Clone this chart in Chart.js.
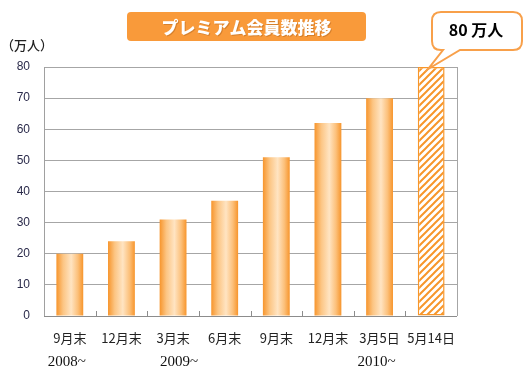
<!DOCTYPE html>
<html>
<head>
<meta charset="utf-8">
<script src="https://cdn.jsdelivr.net/npm/chart.js@4"></script>
<style>
html,body{margin:0;padding:0;background:#fff;}
#wrap{position:relative;width:530px;height:380px;}
</style>
</head>
<body>
<div id="wrap"><canvas id="c" width="530" height="380"></canvas></div>
<script>
const categories = ["9月末", "12月末", "3月末", "6月末", "9月末", "12月末", "3月5日", "5月14日"];
const members = [20, 24, 31, 37, 51, 62, 70, 80];
const yearLabels = ["2008~", "2009~", "2010~"];
const yearIndex = [0, 2, 6];
const yTicks = [0, 10, 20, 30, 40, 50, 60, 70, 80];
const titleText = "プレミアム会員数推移";
const unitText = "（万人）";
const calloutText = "80 万人";
const hatchedIndex = 7;

const ORANGE = "#f7962a";
const BAR_PCT = 0.52;

function makeHatch() {
  const p = document.createElement("canvas");
  p.width = 7; p.height = 7;
  const g = p.getContext("2d");
  g.fillStyle = "#fff";
  g.fillRect(0, 0, 7, 7);
  g.strokeStyle = ORANGE;
  g.lineWidth = 2;
  g.beginPath();
  g.moveTo(-1, 8); g.lineTo(8, -1);
  g.moveTo(-4.5, 4.5); g.lineTo(4.5, -4.5);
  g.moveTo(2.5, 11.5); g.lineTo(11.5, 2.5);
  g.stroke();
  return g.createPattern(p, "repeat");
}
let hatch = null;

function barFill(c) {
  const chart = c.chart;
  const area = chart.chartArea;
  if (!area) return ORANGE;
  if (c.dataIndex === hatchedIndex) {
    if (!hatch) hatch = makeHatch();
    return hatch;
  }
  const x = chart.scales.x.getPixelForValue(c.dataIndex);
  const w = area.width / categories.length * BAR_PCT;
  const g = chart.ctx.createLinearGradient(x - w / 2, 0, x + w / 2, 0);
  g.addColorStop(0, "#f7952c");
  g.addColorStop(0.25, "#fcc583");
  g.addColorStop(0.55, "#ffe4c2");
  g.addColorStop(0.8, "#fcc07a");
  g.addColorStop(1, "#f7952c");
  return g;
}

function roundRect(ctx, x, y, w, h, r) {
  ctx.beginPath();
  ctx.moveTo(x + r, y);
  ctx.lineTo(x + w - r, y);
  ctx.quadraticCurveTo(x + w, y, x + w, y + r);
  ctx.lineTo(x + w, y + h - r);
  ctx.quadraticCurveTo(x + w, y + h, x + w - r, y + h);
  ctx.lineTo(x + r, y + h);
  ctx.quadraticCurveTo(x, y + h, x, y + h - r);
  ctx.lineTo(x, y + r);
  ctx.quadraticCurveTo(x, y, x + r, y);
  ctx.closePath();
}

const decor = {
  id: "decor",
  beforeDatasetsDraw(chart) {
    const ctx = chart.ctx, a = chart.chartArea;
    ctx.save();
    ctx.strokeStyle = "#a6a6a6";
    ctx.lineWidth = 1;
    ctx.beginPath();
    ctx.moveTo(Math.round(a.right) + 0.5, a.top);
    ctx.lineTo(Math.round(a.right) + 0.5, a.bottom);
    ctx.stroke();
    ctx.restore();
  },
  afterDraw(chart) {
    const ctx = chart.ctx, a = chart.chartArea, xs = chart.scales.x, ys = chart.scales.y;
    ctx.save();
    ctx.strokeStyle = "#8c8c8c";
    ctx.lineWidth = 1;
    ctx.beginPath();
    ctx.moveTo(a.left, Math.round(a.bottom) + 0.5);
    ctx.lineTo(a.right, Math.round(a.bottom) + 0.5);
    const cw = a.width / categories.length;
    for (let i = 1; i < categories.length; i++) {
      const x = Math.round(a.left + cw * i) + 0.5;
      ctx.moveTo(x, a.bottom);
      ctx.lineTo(x, a.bottom - 5);
    }
    ctx.stroke();

    // title box
    roundRect(ctx, 127, 12, 239, 29, 4);
    ctx.fillStyle = "#f99a3a";
    ctx.fill();
    ctx.font = "900 17px 'Noto Sans CJK JP'";
    ctx.textAlign = "center";
    ctx.textBaseline = "middle";
    ctx.fillStyle = "rgba(150,80,20,0.35)";
    ctx.fillText(titleText, 247.5, 28.5);
    ctx.fillStyle = "#ffffff";
    ctx.fillText(titleText, 246.5, 27.5);

    // unit label
    ctx.font = "500 13px 'Noto Sans CJK JP'";
    ctx.fillStyle = "#222";
    ctx.textAlign = "left";
    ctx.fillText(unitText, 1, 45);

    // year labels
    ctx.font = "15px 'Liberation Serif'";
    ctx.fillStyle = "#111";
    ctx.textAlign = "center";
    const yOff = [-3, 6, -3];
    yearLabels.forEach((t, k) => {
      ctx.fillText(t, xs.getPixelForValue(yearIndex[k]) + yOff[k], 362);
    });

    // callout
    const tipX = xs.getPixelForValue(hatchedIndex) - 3;
    const tipY = ys.getPixelForValue(members[hatchedIndex]) + 2;
    const bx = 432, by = 12, bw = 90, bh = 38, r = 9;
    ctx.beginPath();
    ctx.moveTo(bx + r, by);
    ctx.lineTo(bx + bw - r, by);
    ctx.quadraticCurveTo(bx + bw, by, bx + bw, by + r);
    ctx.lineTo(bx + bw, by + bh - r);
    ctx.quadraticCurveTo(bx + bw, by + bh, bx + bw - r, by + bh);
    ctx.lineTo(460, by + bh);
    ctx.lineTo(tipX, tipY);
    ctx.lineTo(443, by + bh);
    ctx.lineTo(bx + r, by + bh);
    ctx.quadraticCurveTo(bx, by + bh, bx, by + bh - r);
    ctx.lineTo(bx, by + r);
    ctx.quadraticCurveTo(bx, by, bx + r, by);
    ctx.closePath();
    ctx.fillStyle = "#ffffff";
    ctx.fill();
    ctx.strokeStyle = "#f8a04a";
    ctx.lineWidth = 2;
    ctx.stroke();
    ctx.font = "bold 16px 'Noto Sans CJK JP'";
    ctx.fillStyle = "#000";
    ctx.textAlign = "center";
    ctx.fillText(calloutText, 476, 30);
    ctx.restore();
  }
};

new Chart(document.getElementById("c"), {
  type: "bar",
  data: {
    labels: categories,
    datasets: [{
      data: members,
      backgroundColor: barFill,
      borderColor: (c) => c.dataIndex === hatchedIndex ? ORANGE : "rgba(0,0,0,0)",
      borderWidth: (c) => c.dataIndex === hatchedIndex ? 1.5 : 0,
      borderSkipped: false,
      barPercentage: BAR_PCT,
      categoryPercentage: 1
    }]
  },
  options: {
    responsive: false,
    animation: false,
    devicePixelRatio: 1,
    layout: { padding: { top: 67, right: 73, left: 0, bottom: 0 } },
    plugins: { legend: { display: false }, tooltip: { enabled: false } },
    scales: {
      x: {
        grid: { display: false, drawTicks: false },
        border: { display: false },
        ticks: {
          padding: 14,
          color: "#222",
          font: { family: "'Noto Sans CJK JP'", size: 13 },
          maxRotation: 0, autoSkip: false
        },
        afterFit(s) { s.height = 64; }
      },
      y: {
        min: 0, max: 80,
        afterBuildTicks(s) { s.ticks = yTicks.map(v => ({ value: v })); },
        grid: { color: "#a6a6a6", lineWidth: 1, drawTicks: false },
        border: { display: true, color: "#a0a0a0", width: 1 },
        ticks: {
          padding: 14,
          color: "#2a2a4a",
          font: { family: "'Liberation Sans'", size: 12 }
        },
        afterFit(s) { s.width = 44; }
      }
    }
  },
  plugins: [decor]
});
</script>
</body>
</html>
